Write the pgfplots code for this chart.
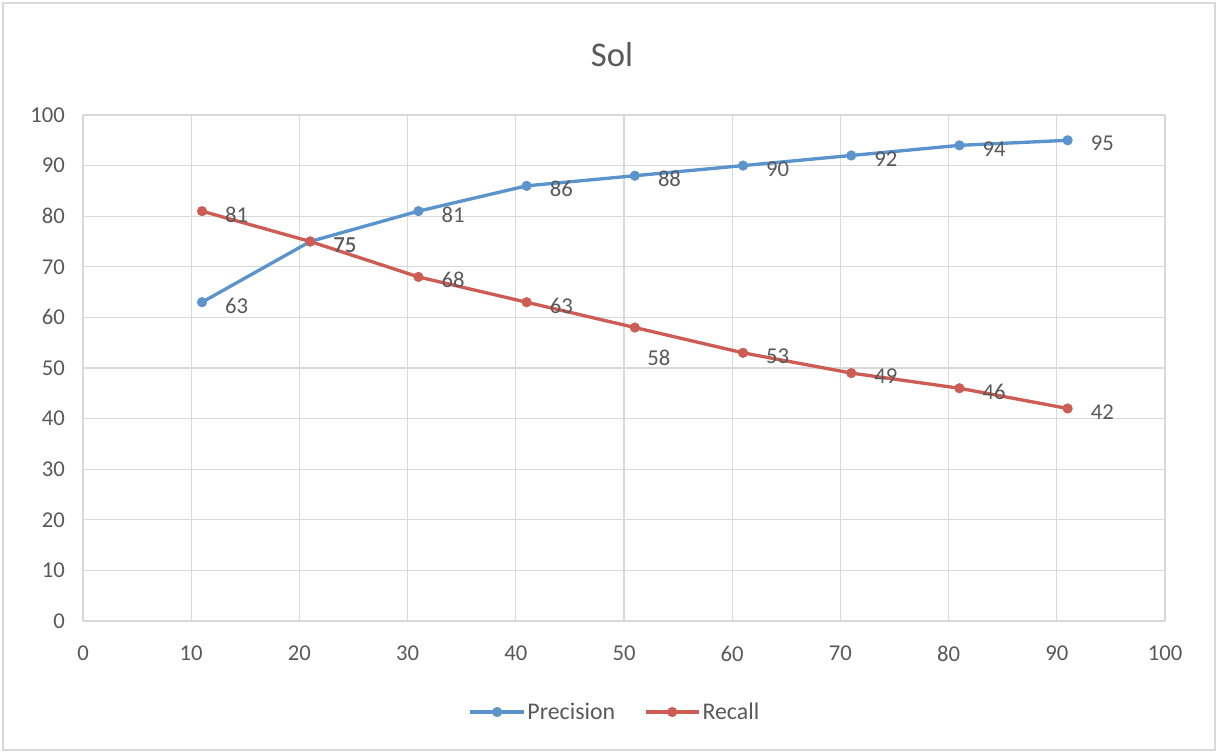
\documentclass[border=0pt]{standalone}
\usepackage{pgfplots}
\pgfplotsset{compat=1.18}
\usepackage{pgfplotstable}
\usepackage{fontspec}
\setmainfont{Carlito}
\definecolor{pblue}{RGB}{91,148,205}
\definecolor{rred}{RGB}{205,92,84}
\definecolor{gridgray}{RGB}{217,217,217}
\definecolor{txtgray}{RGB}{89,89,89}
\pgfplotstableread{
x y dx dy
11 63 26 -2.5
21 75 26 -2.5
31 81 26 -2.5
41 86 26 -2.5
51 88 26 -2.5
61 90 26 -2.5
71 92 26 -2.5
81 94 26 -2.5
91 95 26 -2.5
}\precision
\pgfplotstableread{
x y dx dy
11 81 26 -2.5
21 75 26 -2.5
31 68 26 -2.5
41 63 26 -2.5
51 58 18 -22.5
61 53 26 -2.5
71 49 26 -2.5
81 46 26 -2.5
91 42 26 -2.5
}\recall
\begin{document}
\begin{tikzpicture}
\useasboundingbox (-62.25pt,-99.75pt) rectangle (852pt,465.75pt);
\draw[gridgray, line width=0.9pt] (-60pt,-96.75pt) rectangle (849pt,463.5pt);
\node[text=txtgray, font=\fontsize{26}{30}\selectfont] at (396.75pt,424.5pt) {Sol};
\begin{axis}[
  at={(0,0)}, anchor=south west,
  scale only axis, width=811.5pt, height=379.5pt,
  xmin=0, xmax=100, ymin=0, ymax=100,
  xtick={0,10,...,100}, ytick={0,10,...,100},
  grid=major, major grid style={gridgray, line width=0.9pt},
  axis line style={draw=none},
  major tick length=0pt,
  /pgf/number format/assume math mode=true,
  tick label style={text=txtgray, font=\fontsize{17}{20}\selectfont},
  xticklabel style={yshift=-15pt},
  yticklabel style={xshift=-10pt},
  legend style={at={(0.4917,0)}, anchor=center, yshift=-68.25pt, draw=none, fill=none,
    font=\fontsize{17.9}{21}\selectfont, text=txtgray, legend columns=2,
    nodes={inner sep=1.5pt},
    /tikz/every even column/.append style={column sep=20pt}},
  legend image code/.code={\draw[mark repeat=2,mark phase=2] plot coordinates {(0pt,0pt)(20pt,0pt)(40pt,0pt)};},
  nodes near coords,
  point meta=explicit,
  visualization depends on={\thisrow{dx} \as \dx},
  visualization depends on={\thisrow{dy} \as \dy},
  every node near coord/.append style={anchor=center, xshift=\dx pt, yshift=\dy pt, text=txtgray, font=\fontsize{17}{20}\selectfont, /pgf/number format/assume math mode=true},
]
\addplot[pblue, line width=2.5pt, mark=*, mark size=3.6pt, mark options={line width=0.4pt}] table[x=x, y=y, meta=y] {\precision};
\addlegendentry{Precision}
\addplot[rred, line width=2.5pt, mark=*, mark size=3.6pt, mark options={line width=0.4pt}] table[x=x, y=y, meta=y] {\recall};
\addlegendentry{Recall}
\end{axis}
\end{tikzpicture}
\end{document}
